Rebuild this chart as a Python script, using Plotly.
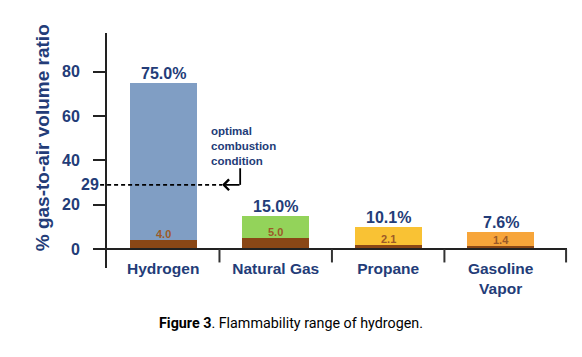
import plotly.graph_objects as go

categories = ["Hydrogen", "Natural Gas", "Propane", "Gasoline<br>Vapor"]
lower_limit = [4.0, 5.0, 2.1, 1.4]
upper_limit = [75.0, 15.0, 10.1, 7.6]
upper_colors = ["#809ec4", "#93d35a", "#f9c234", "#f7a53a"]
optimal_value = 29
y_ticks = [0, 20, 40, 60, 80]

NAVY = "#233c78"
BROWN = "#8a4716"
FONT = "Liberation Sans, Arial, sans-serif"

y_min, y_max = -8.5, 97.5
x_min, x_max = -0.5, 3.59

def ypaper(v):
    return (v - y_min) / (y_max - y_min)

fig = go.Figure()
fig.add_trace(go.Bar(x=categories, y=lower_limit, marker_color=BROWN, width=0.595,
                     marker_line_width=0, hoverinfo="skip"))
fig.add_trace(go.Bar(x=categories, y=[u - l for u, l in zip(upper_limit, lower_limit)],
                     marker_color=upper_colors, width=0.595, marker_line_width=0,
                     hoverinfo="skip"))

ann = []
for c, lo, up in zip(categories, lower_limit, upper_limit):
    ann.append(dict(x=c, y=up, text=f"<b>{up:.1f}%</b>", showarrow=False, yanchor="bottom",
                    font=dict(family=FONT, size=16, color=NAVY), yshift=-1))
    ann.append(dict(x=c, y=lo, text=f"<b>{lo:.1f}</b>", showarrow=False, yanchor="bottom",
                    font=dict(family=FONT, size=11, color="#9c5a28"), yshift=-2))

# optimal label "29"
ann.append(dict(xref="paper", x=-0.013, y=optimal_value, text="<b>29</b>", showarrow=False,
                xanchor="right", font=dict(family=FONT, size=16, color=NAVY)))
# arrow head
ann.append(dict(xref="paper", x=0.25, y=optimal_value, text="", showarrow=True,
                ax=19, ay=0, arrowhead=4, arrowsize=1.3, arrowwidth=1.6, arrowcolor="black"))
ann.append(dict(xref="paper", x=0.221, y=46.5, text="<b>optimal<br>combustion<br>condition</b>",
                showarrow=False, xanchor="left", yanchor="middle", align="left",
                font=dict(family=FONT, size=11.5, color=NAVY)))
# y title
ann.append(dict(xref="paper", yref="paper", x=-0.167, y=0.555, text="<b>% gas-to-air volume ratio</b>",
                textangle=-90, showarrow=False, font=dict(family=FONT, size=19, color=NAVY)))
# caption
ann.append(dict(xref="paper", yref="paper", x=0.4, y=-0.277,
                text="<b>Figure 3</b>. Flammability range of hydrogen.", showarrow=False,
                font=dict(family="Liberation Sans Narrow, Roboto, sans-serif", size=14.3, color="black")))

shapes = []
shapes.append(dict(type="line", xref="paper", yref="y", x0=-0.015, x1=0.25, y0=optimal_value,
                   y1=optimal_value, line=dict(color="black", width=1.6, dash="4px,3px")))
shapes.append(dict(type="line", xref="paper", yref="y", x0=0.2895, x1=0.2895, y0=optimal_value,
                   y1=36.5, line=dict(color="black", width=1.8)))
for b in [0.5, 1.5, 2.5]:
    shapes.append(dict(type="line", xref="x", yref="paper", x0=b, x1=b, y0=ypaper(0),
                       y1=ypaper(-6), line=dict(color="#333", width=2)))
shapes.append(dict(type="line", xref="paper", yref="paper", x0=0.998, x1=0.998, y0=ypaper(0),
                   y1=ypaper(-6), line=dict(color="#333", width=2)))

fig.update_layout(
    barmode="stack", showlegend=False, width=574, height=349,
    margin=dict(l=99, r=15, t=25, b=89),
    paper_bgcolor="white", plot_bgcolor="white",
    annotations=ann, shapes=shapes,
    xaxis=dict(range=[x_min, x_max], anchor="free", position=ypaper(0), showline=True,
               linecolor="#222", linewidth=2, ticks="outside", ticklen=5, tickcolor="rgba(0,0,0,0)",
               tickfont=dict(family=FONT, size=15.5, color=NAVY), showgrid=False,
               tickprefix="<b>", ticksuffix="</b>", automargin=False),
    yaxis=dict(range=[y_min, y_max], tickvals=y_ticks, ticktext=[f"<b>{t}</b>" for t in y_ticks],
               showline=True, linecolor="#222", linewidth=2, ticks="outside", ticklen=12,
               tickwidth=2, tickcolor="#222", showgrid=False, zeroline=False,
               ticklabelstandoff=10, automargin=False,
               tickfont=dict(family=FONT, size=16, color=NAVY)),
)
fig.write_html("out.html")
